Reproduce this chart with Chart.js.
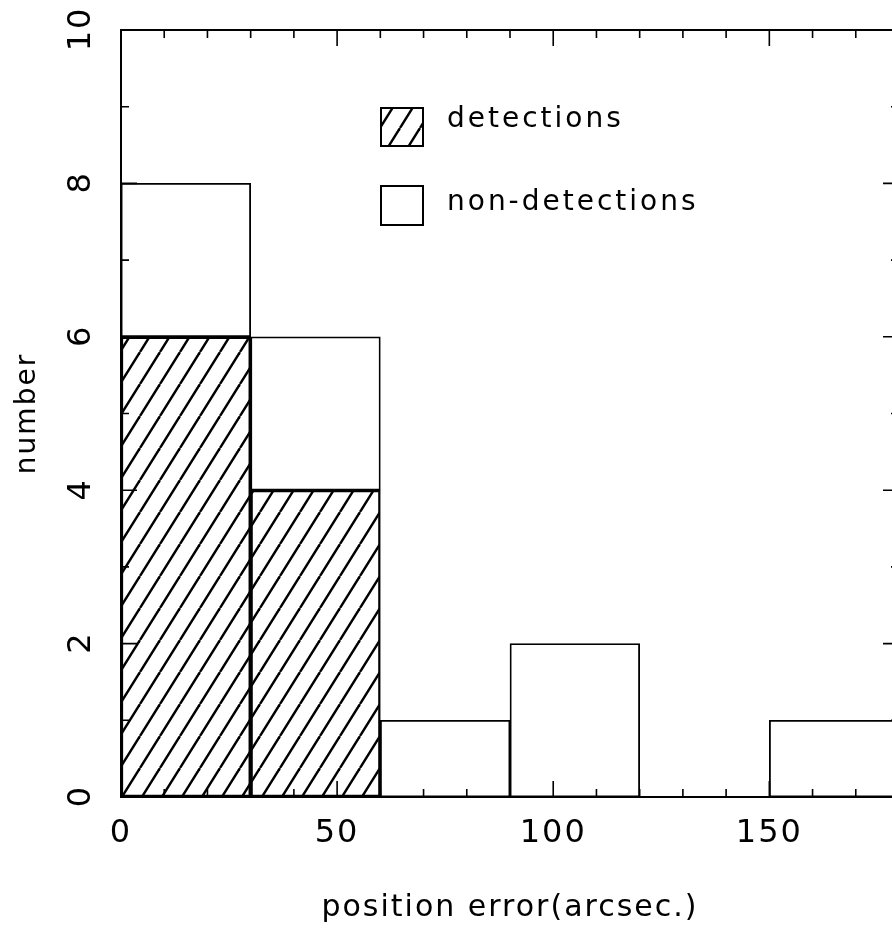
<!DOCTYPE html>
<html>
<head>
<meta charset="utf-8">
<script src="https://cdn.jsdelivr.net/npm/chart.js@4/dist/chart.umd.min.js"></script>
<style>
  html, body { margin: 0; padding: 0; background: #fff; overflow: hidden; }
  #wrap { width: 910px; height: 931px; }
</style>
</head>
<body>
<div id="wrap"><canvas id="hist" width="910" height="931"></canvas></div>
<script>
// histogram of position error, 30" bins
const binCenters = [15, 45, 75, 105, 135, 165];
const detections = [6, 4, 0, 0, 0, 0];
const nonDetections = [2, 2, 1, 2, 0, 1];   // stacked on top of detections
const xRange = [0, 180];
const yRange = [0, 10];
const xMajorStep = 50, xMinorStep = 10;
const yMajorStep = 2, yMinorStep = 1;
const legendLabels = ['detections', 'non-detections'];

Chart.defaults.font.family = "'DejaVu Sans', sans-serif";
Chart.defaults.color = '#000';

function makeHatch() {
    const c = document.createElement('canvas');
    c.width = 20; c.height = 32;
    const g = c.getContext('2d');
    g.strokeStyle = '#000';
    g.lineWidth = 2.4;
    for (const dx of [-20, 0, 20]) {
        g.beginPath();
        g.moveTo(dx, 32);
        g.lineTo(dx + 20, 0);
        g.stroke();
    }
    return g.createPattern(c, 'repeat');
}
const hatch = makeHatch();

// inward tick marks on all four sides, frame, rotated y labels and the legend
const frameTicks = {
    id: 'frameTicks',
    beforeDraw(chart) {
        chart.ctx.letterSpacing = '2px';
    },
    afterDatasetsDraw(chart) {
        const { ctx, chartArea: a, scales: { x, y } } = chart;
        ctx.save();
        ctx.strokeStyle = '#000';
        ctx.lineWidth = 2;
        ctx.strokeRect(a.left, a.top, a.right - a.left, a.bottom - a.top);
        ctx.lineWidth = 1.6;
        ctx.beginPath();
        for (let v = xRange[0]; v <= xRange[1]; v += xMinorStep) {
            const px = x.getPixelForValue(v);
            const len = v % xMajorStep === 0 ? 16 : 8;
            ctx.moveTo(px, a.bottom); ctx.lineTo(px, a.bottom - len);
            ctx.moveTo(px, a.top); ctx.lineTo(px, a.top + len);
        }
        for (let v = yRange[0]; v <= yRange[1]; v += yMinorStep) {
            const py = y.getPixelForValue(v);
            const len = v % yMajorStep === 0 ? 16 : 8;
            ctx.moveTo(a.left, py); ctx.lineTo(a.left + len, py);
            ctx.moveTo(a.right, py); ctx.lineTo(a.right - len, py);
        }
        ctx.stroke();

        // y tick labels, rotated like the axis title
        ctx.fillStyle = '#000';
        ctx.font = "32px 'DejaVu Sans'";
        ctx.textAlign = 'center';
        ctx.textBaseline = 'middle';
        ctx.letterSpacing = '2px';
        for (let v = yRange[0]; v <= yRange[1]; v += yMajorStep) {
            const py = y.getPixelForValue(v);
            ctx.save();
            ctx.translate(82, py);
            ctx.rotate(-Math.PI / 2);
            ctx.fillText(String(v), 1, 0);
            ctx.restore();
        }

        // legend
        const ds = chart.data.datasets;
        const rows = [{ top: 108, h: 38, base: 127 }, { top: 186, h: 39, base: 210 }];
        ctx.font = "28px 'DejaVu Sans'";
        ctx.textAlign = 'left';
        ctx.textBaseline = 'alphabetic';
        ctx.letterSpacing = '3px';
        rows.forEach((r, i) => {
            ctx.fillStyle = ds[i].backgroundColor;
            ctx.fillRect(381, r.top, 42, r.h);
            ctx.lineWidth = 2;
            ctx.strokeRect(381, r.top, 42, r.h);
            ctx.fillStyle = '#000';
            ctx.fillText(legendLabels[i], 447, r.base);
        });
        ctx.restore();
    }
};

new Chart(document.getElementById('hist'), {
    type: 'bar',
    data: {
        datasets: [
            { label: legendLabels[0], data: binCenters.map((c, i) => ({ x: c, y: detections[i] })),
              backgroundColor: hatch, borderColor: '#000', borderWidth: 1.8, borderSkipped: false,
              stack: 'n', barPercentage: 1, categoryPercentage: 1 },
            { label: legendLabels[1], data: binCenters.map((c, i) => ({ x: c, y: nonDetections[i] })),
              backgroundColor: '#fff', borderColor: '#000', borderWidth: 1.8, borderSkipped: false,
              stack: 'n', barPercentage: 1, categoryPercentage: 1 }
        ]
    },
    options: {
        responsive: false, animation: false, devicePixelRatio: 1,
        layout: { padding: { top: 30, right: 11, bottom: 0, left: 0 } },
        plugins: { legend: { display: false }, tooltip: { enabled: false } },
        scales: {
            x: {
                type: 'linear', min: xRange[0], max: xRange[1], offset: false,
                grid: { display: false }, border: { display: false },
                ticks: { stepSize: xMajorStep, includeBounds: false, padding: 9, maxRotation: 0,
                         font: { size: 32 }, color: '#000' },
                title: { display: true, text: 'position error(arcsec.)', font: { size: 30 },
                         padding: { top: 0, bottom: 5 }, color: '#000' },
                afterFit: s => { s.height = 134; }
            },
            y: {
                min: yRange[0], max: yRange[1], stacked: true,
                grid: { display: false }, border: { display: false },
                ticks: { display: false, stepSize: yMajorStep },
                title: { display: true, text: 'number', font: { size: 28 },
                         padding: { top: 11, bottom: 0 }, color: '#000' },
                afterFit: s => { s.width = 121; }
            }
        }
    },
    plugins: [frameTicks]
});
</script>
</body>
</html>
